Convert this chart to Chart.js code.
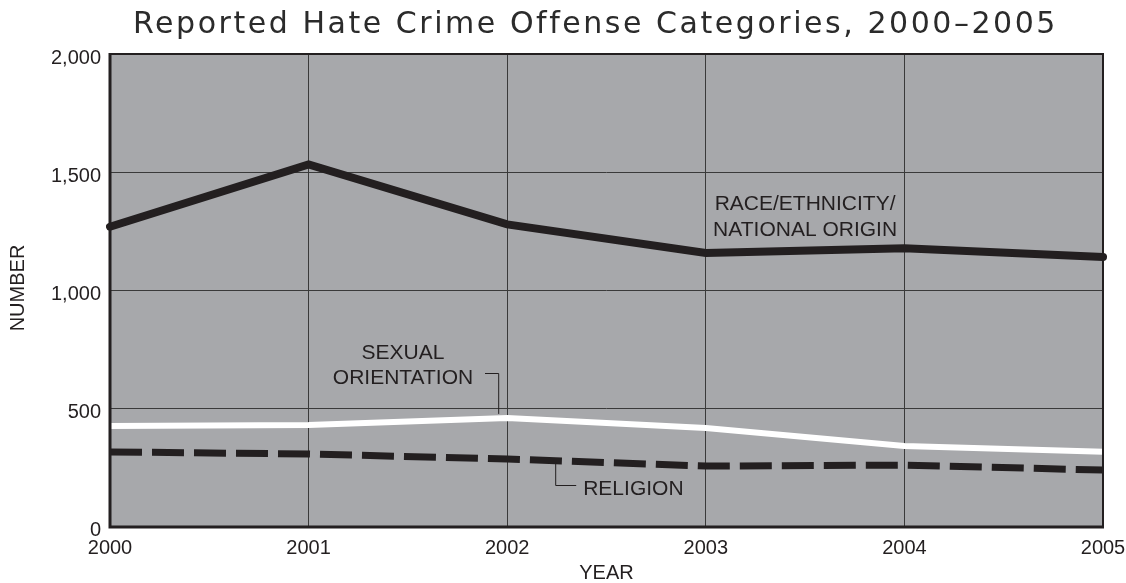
<!DOCTYPE html>
<html>
<head>
<meta charset="utf-8">
<script src="https://cdn.jsdelivr.net/npm/chart.js@4.4.1/dist/chart.umd.min.js"></script>
<style>
  html, body { margin: 0; padding: 0; background: #fff; }
  #wrap { width: 1126px; height: 583px; position: relative; }
</style>
</head>
<body>
<div id="wrap"><canvas id="hateChart" width="1126" height="583"></canvas></div>
<script>
// Data
const years = ['2000', '2001', '2002', '2003', '2004', '2005'];
const raceValues = [1268, 1532, 1278, 1157, 1177, 1140];
const sexualValues = [424, 428, 458, 415, 339, 315];
const religionValues = [314, 305, 284, 254, 258, 237];
const yTicks = [0, 500, 1000, 1500, 2000];

const TEXT = '#231f20';
const FONT = '"Liberation Sans", Arial, sans-serif';

// Gray plot background + outer frame
const plotBackground = {
    id: 'plotBackground',
    beforeDraw(chart) {
        const { ctx, chartArea: a } = chart;
        ctx.save();
        ctx.fillStyle = '#a7a8ab';
        ctx.fillRect(a.left, a.top, a.right - a.left, a.bottom - a.top);
        ctx.restore();
    },
    afterDatasetsDraw(chart) {
        const { ctx, chartArea: a } = chart;
        ctx.save();
        ctx.strokeStyle = '#231f20';
        ctx.lineWidth = 2;
        ctx.beginPath();
        ctx.moveTo(a.left, a.top);
        ctx.lineTo(a.right, a.top);
        ctx.lineTo(a.right, a.bottom);
        ctx.stroke();
        ctx.lineWidth = 3;
        ctx.beginPath();
        ctx.moveTo(a.left, a.top - 1);
        ctx.lineTo(a.left, a.bottom + 1);
        ctx.lineTo(a.right + 1, a.bottom + 1);
        ctx.stroke();
        ctx.restore();
    }
};

// Title, axis titles and series labels
const labelsPlugin = {
    id: 'labelsPlugin',
    afterDraw(chart) {
        const { ctx, chartArea: a, scales } = chart;
        const x = scales.x, y = scales.y;
        ctx.save();

        // title, stretched to the reference width
        const title = 'Reported Hate Crime Offense Categories, 2000\u20132005';
        ctx.font = '30px "DejaVu Sans", sans-serif';
        const plain = ctx.measureText(title).width;
        const spacing = (922 - plain) / (title.length - 1);
        ctx.letterSpacing = spacing + 'px';
        ctx.fillStyle = '#2b2b2b';
        ctx.textAlign = 'left';
        ctx.textBaseline = 'alphabetic';
        ctx.fillText(title, 133, 33);
        ctx.letterSpacing = '0px';

        ctx.fillStyle = TEXT;
        ctx.font = '20px ' + FONT;
        ctx.textAlign = 'center';
        ctx.textBaseline = 'middle';
        ctx.fillText('YEAR', (a.left + a.right) / 2, 573);

        ctx.save();
        ctx.translate(18, 288);
        ctx.rotate(-Math.PI / 2);
        ctx.fillText('NUMBER', 0, 0);
        ctx.restore();

        ctx.font = '21px ' + FONT;
        // race label
        const rx = (x.getPixelForValue(3) + x.getPixelForValue(4)) / 2;
        ctx.fillText('RACE/ETHNICITY/', rx, 204);
        ctx.fillText('NATIONAL ORIGIN', rx, 230);

        // sexual orientation label + leader
        const sx = 403;
        ctx.fillText('SEXUAL', sx, 353);
        ctx.fillText('ORIENTATION', sx, 378);
        ctx.strokeStyle = TEXT;
        ctx.lineWidth = 1;
        const lx = x.getPixelForValue(2) - 9;
        ctx.beginPath();
        ctx.moveTo(485, 373.5);
        ctx.lineTo(lx + 0.5, 373.5);
        ctx.lineTo(lx + 0.5, y.getPixelForValue(sexualValues[2]) - 4);
        ctx.stroke();

        // religion label + leader
        const gx = x.getPixelForValue(2) + 48;
        ctx.beginPath();
        ctx.moveTo(gx + 0.5, y.getPixelForValue(religionValues[2]) + 4);
        ctx.lineTo(gx + 0.5, 485.5);
        ctx.lineTo(gx + 21, 485.5);
        ctx.stroke();
        ctx.textAlign = 'left';
        ctx.fillText('RELIGION', gx + 28, 489);

        ctx.restore();
    }
};

new Chart(document.getElementById('hateChart'), {
    type: 'line',
    data: {
        labels: years,
        datasets: [
            {
                label: 'Race/Ethnicity/National Origin',
                data: raceValues,
                borderColor: '#231f20',
                borderWidth: 8,
                borderJoinStyle: 'miter',
                borderCapStyle: 'round',
                pointRadius: 0,
                tension: 0
            },
            {
                label: 'Sexual Orientation',
                data: sexualValues,
                borderColor: '#ffffff',
                borderWidth: 6,
                pointRadius: 0,
                tension: 0
            },
            {
                label: 'Religion',
                data: religionValues,
                borderColor: '#231f20',
                borderWidth: 7,
                borderDash: [32, 10],
                borderCapStyle: 'butt',
                pointRadius: 0,
                tension: 0
            }
        ]
    },
    options: {
        responsive: false,
        animation: false,
        layout: { padding: { top: 54, right: 23, left: 0, bottom: 0 } },
        plugins: {
            legend: { display: false },
            title: { display: false },
            tooltip: { enabled: false }
        },
        scales: {
            x: {
                offset: false,
                grid: { color: '#3a3a3a', lineWidth: 1, drawTicks: false },
                border: { display: false },
                ticks: {
                    color: TEXT,
                    font: { family: FONT, size: 20 },
                    padding: 10,
                    maxRotation: 0
                },
                afterFit(scale) {
                    scale.height = 57;
                    scale.paddingLeft = 0;
                    scale.paddingRight = 0;
                }
            },
            y: {
                min: 0,
                max: 2000,
                grid: { color: '#3a3a3a', lineWidth: 1, drawTicks: false },
                border: { display: false },
                afterBuildTicks(scale) { scale.ticks = yTicks.map(v => ({ value: v })); },
                ticks: {
                    color: TEXT,
                    font: { family: FONT, size: 20 },
                    padding: 9,
                    labelOffset: 4,
                    callback: v => v.toLocaleString('en-US')
                },
                afterFit(scale) {
                    scale.width = 110;
                    scale.paddingTop = 0;
                    scale.paddingBottom = 0;
                }
            }
        }
    },
    plugins: [plotBackground, labelsPlugin]
});
</script>
</body>
</html>
